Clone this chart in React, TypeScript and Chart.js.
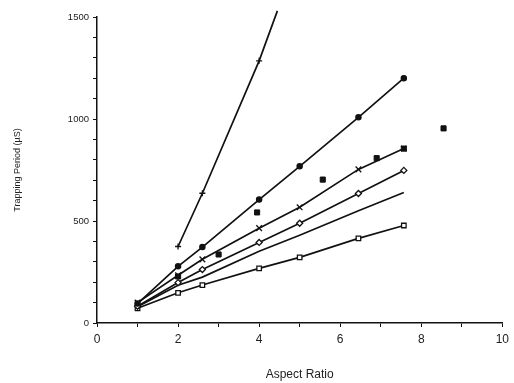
import React, { useEffect, useRef } from "react";
import { Chart, registerables } from "chart.js";

Chart.register(...registerables);

const steepX = [2, 2.6, 4, 4.45];
const steepY = [375, 636, 1285, 1530];

const circleX = [1, 2, 2.6, 4, 5, 6.45, 7.57];
const circleY = [95, 278, 372, 605, 768, 1008, 1200];

const crossX = [1, 2, 2.6, 4, 5, 6.45, 7.57];
const crossY = [100, 234, 312, 465, 567, 753, 855];

const diamondX = [1, 2, 2.6, 4, 5, 6.45, 7.57];
const diamondY = [82, 198, 262, 395, 489, 635, 748];

const plainX = [1, 2, 2.6, 4, 5, 6.45, 7.57];
const plainY = [80, 185, 225, 352, 430, 550, 640];

const squareX = [1, 2, 2.6, 4, 5, 6.45, 7.57];
const squareY = [72, 148, 186, 268, 322, 415, 478];

const filledSqX = [2, 3, 3.95, 5.57, 6.9, 7.57, 8.55];
const filledSqY = [228, 336, 542, 703, 808, 855, 954];

const xTickLabels = ["0", "2", "4", "6", "8", "10"];
const yTickLabels = ["0", "500", "1000", "1500"];

const pts = (xs: number[], ys: number[]) => xs.map((x, i) => ({ x, y: ys[i] }));

export default function App() {
  const ref = useRef<HTMLCanvasElement | null>(null);
  useEffect(() => {
    if (!ref.current) return;
    const font = "'Liberation Sans', Arial, sans-serif";
    const line = (data: any, extra: any) => ({
      data,
      borderColor: "#111",
      backgroundColor: "#111",
      borderWidth: 1.7,
      showLine: true,
      tension: 0,
      pointBorderColor: "#111",
      pointBorderWidth: 1.3,
      ...extra,
    });
    const chart = new Chart(ref.current, {
      type: "scatter",
      data: {
        datasets: [
          line(pts(steepX, steepY), { pointStyle: "cross", pointRadius: 3, clip: false }),
          line(pts(circleX, circleY), { pointStyle: "circle", pointRadius: 2.6, pointBackgroundColor: "#111" }),
          line(pts(crossX, crossY), { pointStyle: "crossRot", pointRadius: 4 }),
          line(pts(diamondX, diamondY), { pointStyle: "rectRot", pointRadius: 3, pointBackgroundColor: "#fff" }),
          line(pts(plainX, plainY), { pointRadius: 0 }),
          line(pts(squareX, squareY), { pointStyle: "rect", pointRadius: 3.2, pointBackgroundColor: "#fff" }),
          {
            data: pts(filledSqX, filledSqY),
            showLine: false,
            pointStyle: "rect",
            pointRadius: 3.6,
            pointBackgroundColor: "#111",
            pointBorderColor: "#111",
            borderColor: "#111",
            backgroundColor: "#111",
          },
        ],
      },
      options: {
        animation: false,
        responsive: false,
        maintainAspectRatio: false,
        layout: { padding: { top: 17, right: 10, left: 0, bottom: 0 } },
        plugins: { legend: { display: false }, tooltip: { enabled: false } },
        scales: {
          x: {
            type: "linear",
            min: 0,
            max: 10,
            border: { color: "#111", width: 1.5 },
            grid: { drawOnChartArea: false, color: "#111", tickLength: 4 },
            ticks: {
              stepSize: 1,
              color: "#222",
              font: { family: font, size: 12 },
              padding: 5,
              maxRotation: 0,
              callback: (v: any) => (Number(v) % 2 === 0 ? xTickLabels[Number(v) / 2] : ""),
            },
            title: {
              display: true,
              text: "Aspect Ratio",
              color: "#222",
              font: { family: font, size: 12 },
              padding: { top: 24, bottom: 1 },
            },
            afterFit: (s: any) => {
              s.height = 60;
            },
          },
          y: {
            type: "linear",
            min: 0,
            max: 1500,
            border: { color: "#111", width: 1.5 },
            grid: { drawOnChartArea: false, color: "#111", tickLength: 4 },
            ticks: {
              stepSize: 100,
              color: "#222",
              font: { family: font, size: 9.5 },
              padding: 4,
              callback: (v: any) => (Number(v) % 500 === 0 ? yTickLabels[Number(v) / 500] : ""),
            },
            title: {
              display: true,
              text: "Trapping Period (µS)",
              color: "#222",
              font: { family: font, size: 9 },
              padding: { top: 12, bottom: 0 },
            },
            afterFit: (s: any) => {
              s.width = 97;
            },
          },
        },
      },
    });
    return () => chart.destroy();
  }, []);
  return (
    <div style={{ position: "absolute", left: 0, top: 0, width: 514, height: 383, background: "#fff" }}>
      <canvas ref={ref} width={514} height={383} style={{ width: 514, height: 383 }} />
    </div>
  );
}
